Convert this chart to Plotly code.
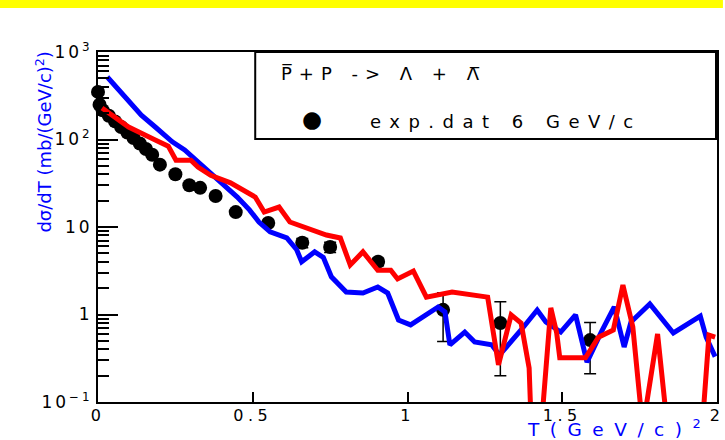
import plotly.graph_objects as go

# Experimental points: T (GeV/c)^2, dsigma/dT (mb/(GeV/c)^2) and errors
t_exp = [0.0, 0.005, 0.015, 0.035, 0.055, 0.075, 0.095, 0.115, 0.135, 0.155,
         0.175, 0.20, 0.25, 0.295, 0.33, 0.38, 0.445, 0.55, 0.66, 0.75,
         0.905, 1.115, 1.30, 1.59]
y_exp = [350, 250, 216, 187, 161, 139, 120, 104, 90, 78,
         67, 51.6, 40, 30, 28, 22.6, 14.8, 11.1, 6.6, 5.9,
         4.0, 1.13, 0.80, 0.51]
err_exp = [None, None, None, None, None, None, None, None, None, None,
           None, None, None, None, None, None, None, None, 0.8, 0.8,
           0.4, 0.64, 0.6, 0.3]

# Model curve (blue)
t_blue = [0.03, 0.08, 0.14, 0.185, 0.24, 0.28, 0.325, 0.40, 0.45, 0.49,
          0.52, 0.556, 0.61, 0.642, 0.658, 0.70, 0.728, 0.754, 0.802, 0.856,
          0.904, 0.936, 0.971, 1.01, 1.048, 1.099, 1.121, 1.137, 1.185, 1.217,
          1.272, 1.297, 1.367, 1.419, 1.447, 1.495, 1.543, 1.58, 1.626, 1.668,
          1.70, 1.722, 1.783, 1.859, 1.946, 1.965, 1.994]
y_blue = [518, 327, 190, 139, 94, 76, 55, 31.8, 22, 15.6,
          11.4, 8.8, 7.5, 5.5, 4.0, 5.2, 4.5, 2.7, 1.81, 1.76,
          2.06, 1.76, 0.865, 0.76, 0.94, 1.22, 1.07, 0.45, 0.63, 0.485,
          0.45, 0.344, 0.665, 1.125, 0.82, 0.63, 0.99, 0.286, 0.63, 1.22,
          0.425, 0.82, 1.32, 0.615, 0.96, 0.55, 0.33]

# Model curve (red)
t_red = [0.013, 0.099, 0.185, 0.227, 0.252, 0.30, 0.323, 0.364, 0.428, 0.508,
         0.537, 0.585, 0.62, 0.738, 0.783, 0.815, 0.856, 0.904, 0.946, 0.968,
         1.019, 1.061, 1.144, 1.208, 1.259, 1.294, 1.335, 1.367, 1.393, 1.40,
         1.432, 1.463, 1.482, 1.492, 1.575, 1.617, 1.665, 1.696, 1.728, 1.76,
         1.808, 1.84, 1.952, 1.974, 1.994]
y_red = [229, 139, 99, 84, 58, 58, 48.5, 39, 32, 22,
         14.8, 16.9, 11.4, 8.1, 7.5, 3.68, 5.2, 3.2, 3.2, 2.55,
         3.14, 1.58, 1.81, 1.67, 1.58, 0.265, 0.99, 0.80, 0.245, 0.05,
         0.05, 1.19, 0.615, 0.32, 0.32, 0.55, 0.665, 2.17, 0.72, 0.05,
         0.60, 0.05, 0.05, 0.58, 0.55]

x_ticks = [0, 0.5, 1, 1.5, 2]
x_labels = ["0", "0.5", "1", "1.5", "2"]
y_ticks = [0.1, 1, 10, 100, 1000]
y_labels = ["10<sup>\u22121</sup>", "1", "10", "10<sup>2</sup>", "10<sup>3</sup>"]

FONT = "DejaVu Sans"
BLUE = "#0000ff"
RED = "#ff0000"


def spaced(text, px):
    return f'<span style="letter-spacing:{px}px">{text}</span>'


fig = go.Figure()

fig.add_trace(go.Scatter(
    x=t_exp, y=y_exp, mode="markers",
    marker=dict(symbol="circle", size=14, color="black"),
    error_y=dict(type="data", array=err_exp, visible=True,
                 color="black", thickness=1.5, width=6),
    cliponaxis=False, showlegend=False,
))
fig.add_trace(go.Scatter(
    x=t_blue, y=y_blue, mode="lines",
    line=dict(color=BLUE, width=5), showlegend=False,
))
fig.add_trace(go.Scatter(
    x=t_red, y=y_red, mode="lines",
    line=dict(color=RED, width=5), showlegend=False,
))

axis_common = dict(
    showline=True, linecolor="black", linewidth=2, mirror=True,
    ticks="inside", tickcolor="black", tickwidth=1.5,
    showgrid=False, zeroline=False,
)

fig.update_xaxes(
    range=[0, 2], tickmode="array", tickvals=x_ticks,
    ticktext=[spaced(s, 4.5) for s in x_labels], ticklen=10,
    ticklabeloverflow="allow", ticklabelstandoff=-2,
    tickfont=dict(family=FONT, size=16, color="black"),
    **axis_common,
)
fig.update_yaxes(
    type="log", range=[-1, 3], tickmode="array", tickvals=y_ticks,
    ticktext=[spaced(s, 3) for s in y_labels], ticklen=20,
    minor=dict(ticks="inside", ticklen=11, tickcolor="black", tickwidth=1.5,
               dtick="D1", showgrid=False),
    tickfont=dict(family=FONT, size=17, color="black"),
    **axis_common,
)

# paper coordinates: plot area spans x 98..724 px, y 52..402 px
def px(xp):
    return (xp - 98) / 626.0


def py(yp):
    return (402 - yp) / 350.0


shapes = [
    # top band
    dict(type="rect", xref="paper", yref="paper",
         x0=px(-5), x1=px(730), y0=py(8), y1=py(-5),
         fillcolor="#ffff00", line=dict(width=0), layer="above"),
    # legend box
    dict(type="rect", xref="paper", yref="paper",
         x0=px(257), x1=px(723), y0=py(139), y1=py(52),
         fillcolor="white", line=dict(color="black", width=2), layer="above"),
]

annotations = [
    dict(text=spaced("P\u0305+P -> \u039b + \u039b\u0305", 7),
         xref="paper", yref="paper", x=px(281), y=py(73),
         xanchor="left", yanchor="middle", showarrow=False,
         font=dict(family=FONT, size=18, color="black")),
    dict(text="\u25cf", xref="paper", yref="paper", x=px(314), y=py(119),
         xanchor="center", yanchor="middle", showarrow=False,
         font=dict(family=FONT, size=23, color="black")),
    dict(text=spaced("exp.dat 6 GeV/c", 8.5),
         xref="paper", yref="paper", x=px(371), y=py(121),
         xanchor="left", yanchor="middle", showarrow=False,
         font=dict(family=FONT, size=18, color="black")),
    dict(text=spaced("T(GeV/c)<sup>2</sup>", 10.5),
         xref="paper", yref="paper", x=px(720), y=py(442),
         xanchor="right", yanchor="bottom", showarrow=False,
         font=dict(family=FONT, size=18.5, color=BLUE)),
    dict(text="d\u03c3/dT (mb/(GeV/c)<sup>2</sup>)",
         xref="paper", yref="paper", x=px(43), y=py(142),
         xanchor="center", yanchor="middle", showarrow=False, textangle=-90,
         font=dict(family=FONT, size=18, color=BLUE)),
]

fig.update_layout(
    width=725, height=440,
    margin=dict(l=98, r=1, t=52, b=38, pad=0),
    paper_bgcolor="white", plot_bgcolor="white",
    showlegend=False,
    shapes=shapes, annotations=annotations,
)

fig.write_html("out.html")
